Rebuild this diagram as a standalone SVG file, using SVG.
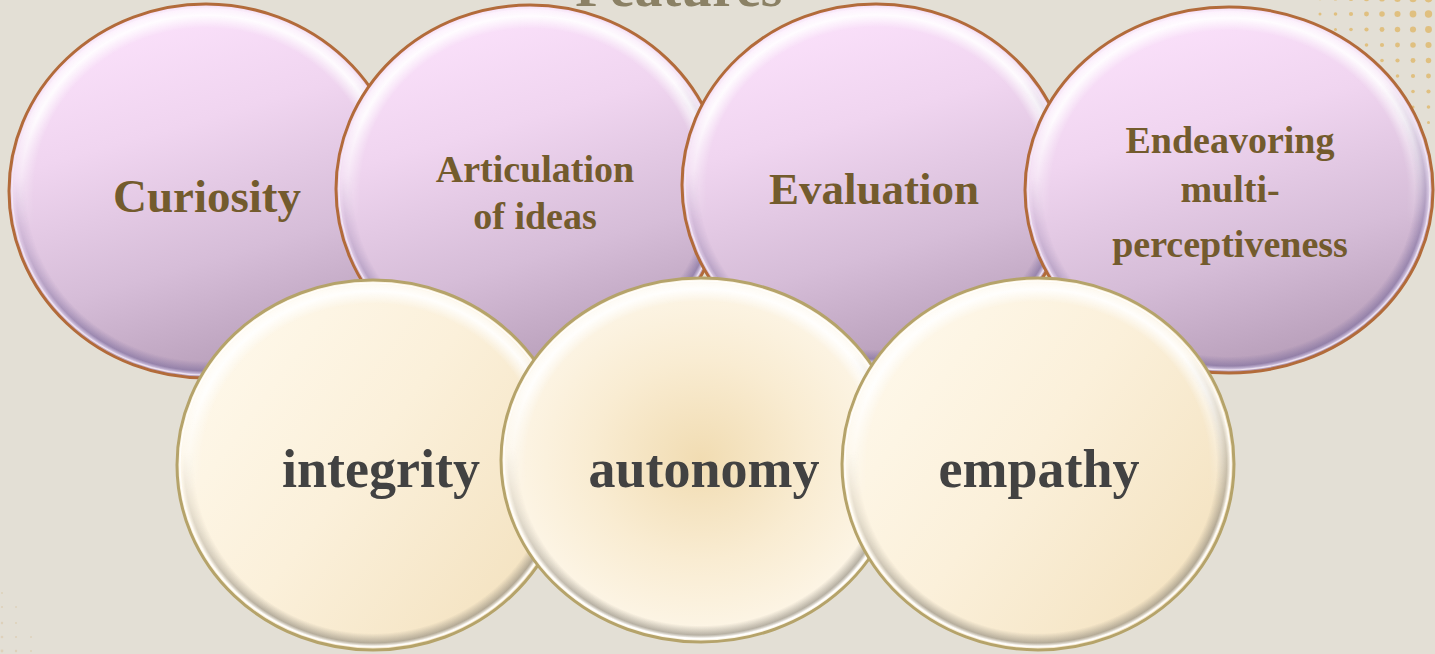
<svg xmlns="http://www.w3.org/2000/svg" width="1435" height="654" viewBox="0 0 1435 654">
<style>
.bg{fill:#e3dfd5}
.dot{fill:#e0c080}
.dotf{fill:#d9c29a;opacity:.45}
.title{font-family:"Liberation Serif","Times New Roman",serif;font-weight:bold;font-size:56px;fill:#8b8165;text-anchor:middle}
.pb{fill:url(#pFill);stroke:#b26b3a;stroke-width:3}
.cb{stroke:#b5a36a;stroke-width:3}
.hi{fill:url(#ringHi);mask:url(#mTop)}
.psh{fill:url(#ringShP);mask:url(#mBot)}
.csh{fill:url(#ringShC);mask:url(#mBot)}
.pln{fill:none;stroke:#f6ecf6;stroke-width:1.2;opacity:.85}
.cln{fill:none;stroke:#ffffff;stroke-width:1.2;opacity:.85}
.pt{font-family:"Liberation Serif","Times New Roman",serif;font-weight:bold;fill:#735b2d;text-anchor:middle}
.ct{font-family:"Liberation Serif","Times New Roman",serif;font-weight:bold;font-size:54px;fill:#424242;text-anchor:middle}
</style>
<defs>
<linearGradient id="pFill" x1="0.25" y1="0" x2="0.55" y2="1">
<stop offset="0" stop-color="#fde3fd"/>
<stop offset="0.35" stop-color="#f0d5f0"/>
<stop offset="0.7" stop-color="#d6bdd8"/>
<stop offset="1" stop-color="#b79eb9"/>
</linearGradient>
<linearGradient id="cFill" x1="0" y1="0.1" x2="1" y2="0.8">
<stop offset="0" stop-color="#fffaee"/>
<stop offset="0.5" stop-color="#fbf0da"/>
<stop offset="1" stop-color="#f3e1be"/>
</linearGradient>
<radialGradient id="cRad" cx="0.5" cy="0.5" r="0.5">
<stop offset="0" stop-color="#f1dcb2"/>
<stop offset="0.55" stop-color="#f9ecd2"/>
<stop offset="1" stop-color="#fdf6e8"/>
</radialGradient>
<radialGradient id="ringHi" cx="0.5" cy="0.5" r="0.5">
<stop offset="0.88" stop-color="#ffffff" stop-opacity="0"/>
<stop offset="0.95" stop-color="#ffffff" stop-opacity="0.9"/>
<stop offset="0.985" stop-color="#ffffff" stop-opacity="0.6"/>
<stop offset="1" stop-color="#ffffff" stop-opacity="0"/>
</radialGradient>
<radialGradient id="ringShP" cx="0.5" cy="0.5" r="0.5">
<stop offset="0.92" stop-color="#7b6c9c" stop-opacity="0"/>
<stop offset="0.972" stop-color="#7b6c9c" stop-opacity="0.6"/>
<stop offset="0.99" stop-color="#d8d0ee" stop-opacity="0.7"/>
<stop offset="1" stop-color="#d8d0ee" stop-opacity="0"/>
</radialGradient>
<radialGradient id="ringShC" cx="0.5" cy="0.5" r="0.5">
<stop offset="0.92" stop-color="#8a8478" stop-opacity="0"/>
<stop offset="0.972" stop-color="#8a8478" stop-opacity="0.6"/>
<stop offset="0.99" stop-color="#ffffff" stop-opacity="0.8"/>
<stop offset="1" stop-color="#ffffff" stop-opacity="0"/>
</radialGradient>
<linearGradient id="fTop" x1="0" y1="0" x2="0" y2="1">
<stop offset="0" stop-color="#fff"/>
<stop offset="0.3" stop-color="#fff"/>
<stop offset="0.6" stop-color="#000"/>
</linearGradient>
<linearGradient id="fBot" x1="0.3" y1="0" x2="0.6" y2="1">
<stop offset="0.35" stop-color="#000"/>
<stop offset="0.8" stop-color="#fff"/>
</linearGradient>
<mask id="mTop" maskContentUnits="objectBoundingBox"><rect width="1" height="1" fill="url(#fTop)"/></mask>
<mask id="mBot" maskContentUnits="objectBoundingBox"><rect width="1" height="1" fill="url(#fBot)"/></mask>
</defs>

<rect class="bg" x="0" y="0" width="1435" height="654"/>

<g id="dots">
<circle class="dot" cx="1289" cy="-1.5" r="1.1"/><circle class="dot" cx="1304.5" cy="-1.5" r="1.5"/><circle class="dot" cx="1320" cy="-1.5" r="1.8"/><circle class="dot" cx="1335.5" cy="-1.5" r="2.1"/><circle class="dot" cx="1351" cy="-1.5" r="2.45"/><circle class="dot" cx="1366.5" cy="-1.5" r="2.75"/><circle class="dot" cx="1382" cy="-1.5" r="3.05"/><circle class="dot" cx="1397.5" cy="-1.5" r="3.4"/><circle class="dot" cx="1413" cy="-1.5" r="3.7"/><circle class="dot" cx="1428.5" cy="-1.5" r="3.9"/>
<circle class="dot" cx="1320" cy="14" r="1.5"/><circle class="dot" cx="1335.5" cy="14" r="1.8"/><circle class="dot" cx="1351" cy="14" r="2.1"/><circle class="dot" cx="1366.5" cy="14" r="2.45"/><circle class="dot" cx="1382" cy="14" r="2.75"/><circle class="dot" cx="1397.5" cy="14" r="3.05"/><circle class="dot" cx="1413" cy="14" r="3.4"/><circle class="dot" cx="1428.5" cy="14" r="3.7"/>
<circle class="dot" cx="1335.5" cy="29.5" r="1.5"/><circle class="dot" cx="1351" cy="29.5" r="1.8"/><circle class="dot" cx="1366.5" cy="29.5" r="2.1"/><circle class="dot" cx="1382" cy="29.5" r="2.45"/><circle class="dot" cx="1397.5" cy="29.5" r="2.75"/><circle class="dot" cx="1413" cy="29.5" r="3.05"/><circle class="dot" cx="1428.5" cy="29.5" r="3.4"/>
<circle class="dot" cx="1351" cy="45" r="1.5"/><circle class="dot" cx="1366.5" cy="45" r="1.8"/><circle class="dot" cx="1382" cy="45" r="2.1"/><circle class="dot" cx="1397.5" cy="45" r="2.45"/><circle class="dot" cx="1413" cy="45" r="2.75"/><circle class="dot" cx="1428.5" cy="45" r="3.05"/>
<circle class="dot" cx="1366.5" cy="60.5" r="1.5"/><circle class="dot" cx="1382" cy="60.5" r="1.8"/><circle class="dot" cx="1397.5" cy="60.5" r="2.1"/><circle class="dot" cx="1413" cy="60.5" r="2.45"/><circle class="dot" cx="1428.5" cy="60.5" r="2.75"/>
<circle class="dot" cx="1382" cy="76" r="1.5"/><circle class="dot" cx="1397.5" cy="76" r="1.8"/><circle class="dot" cx="1413" cy="76" r="2.1"/><circle class="dot" cx="1428.5" cy="76" r="2.45"/>
<circle class="dot" cx="1397.5" cy="91.5" r="1.5"/><circle class="dot" cx="1413" cy="91.5" r="1.8"/><circle class="dot" cx="1428.5" cy="91.5" r="2.1"/>
<circle class="dot" cx="1413" cy="107" r="1.5"/><circle class="dot" cx="1428.5" cy="107" r="1.8"/>
<circle class="dot" cx="1428.5" cy="122.5" r="1.5"/>
<circle class="dotf" cx="2" cy="593" r="1"/><circle class="dotf" cx="2" cy="607" r="1.1"/><circle class="dotf" cx="16" cy="607" r="0.9"/><circle class="dotf" cx="2" cy="623" r="1.2"/><circle class="dotf" cx="16" cy="623" r="1"/><circle class="dotf" cx="2" cy="637" r="1.3"/><circle class="dotf" cx="16" cy="637" r="1.1"/><circle class="dotf" cx="31" cy="637" r="0.9"/><circle class="dotf" cx="2" cy="651" r="1.4"/><circle class="dotf" cx="16" cy="651" r="1.2"/><circle class="dotf" cx="31" cy="651" r="1"/>
</g>

<text class="title" x="679" y="6">Features</text>

<g id="connectors"></g>

<g id="n-curiosity">
<ellipse class="pb" cx="206" cy="191" rx="197" ry="187"/>
<ellipse class="hi" cx="206" cy="191" rx="195" ry="185"/>
<ellipse class="psh" cx="206" cy="191" rx="195" ry="185"/>
<ellipse class="pln" cx="206" cy="191" rx="194" ry="184"/>
<text class="pt" x="207" y="212" font-size="47">Curiosity</text>
</g>

<g id="n-articulation">
<ellipse class="pb" cx="530" cy="189" rx="194" ry="184"/>
<ellipse class="hi" cx="530" cy="189" rx="192" ry="182"/>
<ellipse class="psh" cx="530" cy="189" rx="192" ry="182"/>
<ellipse class="pln" cx="530" cy="189" rx="191" ry="181"/>
<text class="pt" x="535" y="182" font-size="38">Articulation</text>
<text class="pt" x="535" y="229" font-size="38">of ideas</text>
</g>

<g id="n-evaluation">
<ellipse class="pb" cx="876" cy="185" rx="194" ry="181"/>
<ellipse class="hi" cx="876" cy="185" rx="192" ry="179"/>
<ellipse class="psh" cx="876" cy="185" rx="192" ry="179"/>
<ellipse class="pln" cx="876" cy="185" rx="191" ry="178"/>
<text class="pt" x="874" y="204" font-size="45">Evaluation</text>
</g>

<g id="n-endeavoring">
<ellipse class="pb" cx="1229" cy="190" rx="204" ry="183"/>
<ellipse class="hi" cx="1229" cy="190" rx="202" ry="181"/>
<ellipse class="psh" cx="1229" cy="190" rx="202" ry="181"/>
<ellipse class="pln" cx="1229" cy="190" rx="201" ry="180"/>
<text class="pt" x="1230" y="153" font-size="38">Endeavoring</text>
<text class="pt" x="1230" y="202" font-size="38">multi-</text>
<text class="pt" x="1230" y="257" font-size="38">perceptiveness</text>
</g>

<g id="n-integrity">
<ellipse class="cb" fill="url(#cFill)" cx="373" cy="465" rx="196" ry="185"/>
<ellipse class="hi" cx="373" cy="465" rx="194" ry="183"/>
<ellipse class="csh" cx="373" cy="465" rx="194" ry="183"/>
<ellipse class="cln" cx="373" cy="465" rx="193" ry="182"/>
<text class="ct" x="381" y="487">integrity</text>
</g>

<g id="n-autonomy">
<ellipse class="cb" fill="url(#cRad)" cx="701" cy="460" rx="200" ry="182"/>
<ellipse class="hi" cx="701" cy="460" rx="198" ry="180"/>
<ellipse class="csh" cx="701" cy="460" rx="198" ry="180"/>
<ellipse class="cln" cx="701" cy="460" rx="197" ry="179"/>
<text class="ct" x="704" y="487">autonomy</text>
</g>

<g id="n-empathy">
<ellipse class="cb" fill="url(#cFill)" cx="1038" cy="464" rx="196" ry="186"/>
<ellipse class="hi" cx="1038" cy="464" rx="194" ry="184"/>
<ellipse class="csh" cx="1038" cy="464" rx="194" ry="184"/>
<ellipse class="cln" cx="1038" cy="464" rx="193" ry="183"/>
<text class="ct" x="1039" y="487">empathy</text>
</g>
</svg>
